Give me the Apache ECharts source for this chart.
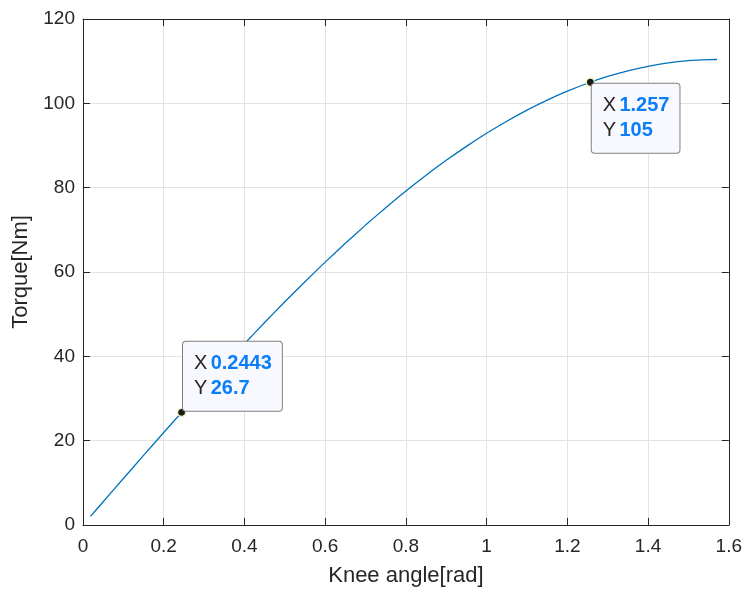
<!DOCTYPE html>
<html>
<head>
<meta charset="utf-8">
<script src="https://cdn.jsdelivr.net/npm/echarts@6/dist/echarts.min.js"></script>
<style>html,body{margin:0;padding:0;background:#fff;}#c{width:745px;height:592px;}</style>
</head>
<body>
<div id="c"></div>
<script>
// Data
const angleRad = [0.0185, 0.05, 0.1, 0.15, 0.2, 0.2443, 0.3, 0.35, 0.4, 0.45, 0.5, 0.55, 0.6, 0.65, 0.7, 0.75, 0.8, 0.85, 0.9, 0.95, 1.0, 1.05, 1.1, 1.15, 1.2, 1.257, 1.3, 1.35, 1.4, 1.45, 1.5, 1.55, 1.5708];
const torqueNm = [2.04, 5.52, 11.02, 16.50, 21.93, 26.70, 32.63, 37.86, 42.99, 48.02, 52.93, 57.70, 62.34, 66.81, 71.12, 75.25, 79.20, 82.94, 86.48, 89.80, 92.90, 95.76, 98.39, 100.77, 102.90, 105.0, 106.38, 107.72, 108.79, 109.60, 110.12, 110.38, 110.40];
const tipX = [0.2443, 1.257];
const tipY = [26.7, 105];
const tipXText = ['0.2443', '1.257'];
const tipYText = ['26.7', '105'];
const xTicks = {min: 0, max: 1.6, step: 0.2};
const yTicks = {min: 0, max: 120, step: 20};
const xTitle = 'Knee angle[rad]';
const yTitle = 'Torque[Nm]';

const FONT = '"Liberation Sans", Arial, Helvetica, sans-serif';
const AX = '#262626';
const GRID = '#e3e3e3';

const chart = echarts.init(document.getElementById('c'), null, {renderer: 'canvas'});

function tipLabel(i, pos, vAlign) {
  return {
    show: true,
    position: pos,
    align: 'left',
    verticalAlign: vAlign,
    formatter: '{k|X} {v|' + tipXText[i] + '}\n{k|Y} {v|' + tipYText[i] + '}',
    backgroundColor: '#f8f8ff',
    borderColor: '#808080',
    borderWidth: 1,
    borderRadius: 3,
    padding: [9, 10, 10, 11],
    rich: {
      k: {fontFamily: FONT, fontSize: 20, color: AX, lineHeight: 25},
      v: {fontFamily: FONT, fontSize: 20, color: '#0a7ef8', fontWeight: 'bold', lineHeight: 25}
    }
  };
}

const tipData = tipX.map((x, i) => ({
  value: [x, tipY[i]],
  label: i === 0 ? tipLabel(i, [6, 3], 'bottom') : tipLabel(i, [6, 6], 'top')
}));

const axisCommon = {
  type: 'value',
  axisLine: {show: true, onZero: false, lineStyle: {color: AX, width: 1}},
  axisTick: {show: true, inside: true, length: 7, lineStyle: {color: AX, width: 1}},
  axisLabel: {color: AX, fontFamily: FONT, fontSize: 19},
};

chart.setOption({
  animation: false,
  grid: {left: 83, right: 16, top: 19, bottom: 65},
  xAxis: [
    Object.assign({}, axisCommon, {
      min: xTicks.min, max: xTicks.max, interval: xTicks.step,
      position: 'bottom',
      axisLabel: Object.assign({}, axisCommon.axisLabel, {margin: 12}),
      splitLine: {show: true, lineStyle: {color: GRID, width: 1}},
      name: xTitle, nameLocation: 'middle', nameGap: 40,
      nameTextStyle: {color: AX, fontFamily: FONT, fontSize: 22}
    }),
    Object.assign({}, axisCommon, {
      min: xTicks.min, max: xTicks.max, interval: xTicks.step,
      position: 'top',
      axisLabel: {show: false},
      splitLine: {show: false}
    })
  ],
  yAxis: [
    Object.assign({}, axisCommon, {
      min: yTicks.min, max: yTicks.max, interval: yTicks.step,
      position: 'left',
      axisLabel: Object.assign({}, axisCommon.axisLabel, {margin: 8}),
      splitLine: {show: true, lineStyle: {color: GRID, width: 1}},
      name: yTitle, nameLocation: 'middle', nameGap: 48,
      nameTextStyle: {color: AX, fontFamily: FONT, fontSize: 22}
    }),
    Object.assign({}, axisCommon, {
      min: yTicks.min, max: yTicks.max, interval: yTicks.step,
      position: 'right',
      axisLabel: {show: false},
      splitLine: {show: false}
    })
  ],
  series: [
    {
      type: 'line',
      data: angleRad.map((x, i) => [x, torqueNm[i]]),
      showSymbol: false,
      smooth: 0.2,
      lineStyle: {color: '#0072bd', width: 1.3},
      itemStyle: {color: '#0072bd'},
      z: 2
    },
    {
      type: 'scatter',
      data: tipData,
      symbol: 'circle',
      symbolSize: 8,
      itemStyle: {color: '#1a1a1a', borderColor: '#f3efb0', borderWidth: 1.2, opacity: 1},
      z: 5
    }
  ]
});
</script>
</body>
</html>
